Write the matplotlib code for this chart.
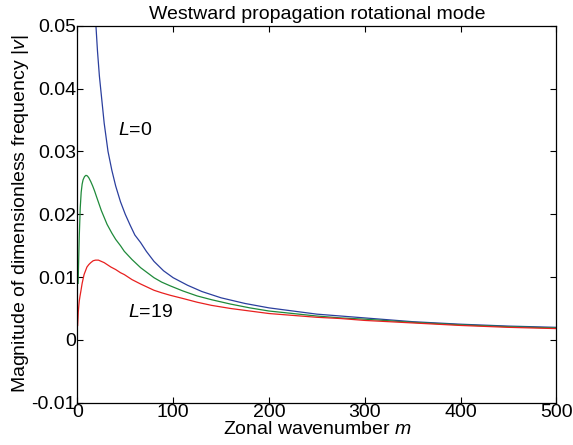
import matplotlib
matplotlib.use("Agg")
import matplotlib.pyplot as plt

plt.rcParams['font.family'] = ['Liberation Sans', 'DejaVu Sans']
plt.rcParams['mathtext.fontset'] = 'custom'
plt.rcParams['mathtext.rm'] = 'Liberation Sans'
plt.rcParams['mathtext.it'] = 'Liberation Sans:italic'

# values
m_l0 = [18, 19, 21, 23, 25, 28, 32, 36, 40, 45, 50, 55, 60, 66, 72, 80, 90,
        100, 115, 130, 150, 175, 200, 225, 250, 275, 300, 350, 400, 450, 500]
v_l0 = [0.054, 0.051, 0.046, 0.042, 0.039, 0.0345, 0.030, 0.027, 0.0245,
        0.022, 0.0200, 0.0183, 0.0167, 0.0155, 0.0141, 0.0125, 0.0110, 0.0099,
        0.0087, 0.0077, 0.0067, 0.0058, 0.0051, 0.0046, 0.0041, 0.0038,
        0.0035, 0.0029, 0.0025, 0.0022, 0.0020]

m_mid = [0.8, 1.5, 2, 3, 4, 5, 6, 7.5, 9, 10.5, 12, 14, 16, 18, 20, 25, 31,
         36, 40, 45, 49, 57, 66, 73, 80, 88, 97, 110, 125, 140, 160, 180, 200,
         225, 250, 275, 300, 350, 400, 450, 500]
v_mid = [0.0090, 0.0135, 0.0165, 0.0210, 0.0235, 0.0248, 0.0255, 0.0260,
         0.0262, 0.0261, 0.0258, 0.0252, 0.0245, 0.0237, 0.0228, 0.0206,
         0.0184, 0.0170, 0.0160, 0.0150, 0.0141, 0.0128, 0.0115, 0.0107,
         0.0099, 0.0092, 0.0086, 0.0078, 0.0070, 0.0064, 0.0057, 0.0051,
         0.0046, 0.0042, 0.0038, 0.0035, 0.0033, 0.0028, 0.0024, 0.0021,
         0.0019]

m_l19 = [0.3, 0.7, 1, 1.5, 2, 2.8, 3.6, 5, 7, 8.5, 10, 12, 14, 16.5, 19, 22,
         25, 28, 31, 35, 40, 45, 49, 57, 66, 73, 80, 88, 97, 110, 125, 140,
         160, 180, 200, 225, 250, 275, 300, 350, 400, 450, 500]
v_l19 = [0.0023, 0.0035, 0.0045, 0.0054, 0.0062, 0.0070, 0.0077, 0.0090,
         0.0104, 0.0110, 0.0116, 0.0120, 0.0123, 0.0126, 0.0127, 0.0127,
         0.0125, 0.0123, 0.0120, 0.0116, 0.0112, 0.0107, 0.0104, 0.0096,
         0.0089, 0.0084, 0.0079, 0.0075, 0.0071, 0.0066, 0.0060, 0.0055,
         0.0050, 0.0046, 0.0042, 0.0039, 0.0036, 0.0034, 0.0031, 0.0027,
         0.0023, 0.0020, 0.0018]

fig = plt.figure(figsize=(5.73, 4.45), dpi=100)
ax = fig.add_axes([0.135, 0.095, 0.836, 0.847])

ax.plot(m_l0, v_l0, color='#2b3f9e', lw=0.9)
ax.plot(m_mid, v_mid, color='#1f8a3a', lw=0.9)
ax.plot(m_l19, v_l19, color='#e8201f', lw=0.9)

ax.set_xlim(0, 500)
ax.set_ylim(-0.01, 0.05)
ax.set_xticks([0, 100, 200, 300, 400, 500])
ax.set_yticks([-0.01, 0, 0.01, 0.02, 0.03, 0.04, 0.05])
ax.set_yticklabels(['-0.01', '0', '0.01', '0.02', '0.03', '0.04', '0.05'])
ax.tick_params(direction='in', top=True, right=True, labelsize=14, length=4, width=0.8, pad=1)
for s in ax.spines.values():
    s.set_linewidth(0.9)

ax.text(42, 0.0334, '$\\mathit{L}$=0', fontsize=14, va='center')
ax.text(53, 0.0043, '$\\mathit{L}$=19', fontsize=14, va='center')

ax.set_title('Westward propagation rotational mode', fontsize=14, pad=5)
ax.set_xlabel('Zonal wavenumber $\\mathit{m}$', fontsize=14, labelpad=0)
ax.set_ylabel('Magnitude of dimensionless frequency |$\\mathit{v}$|', fontsize=14, labelpad=0)

fig.savefig('out.png', dpi=100)
